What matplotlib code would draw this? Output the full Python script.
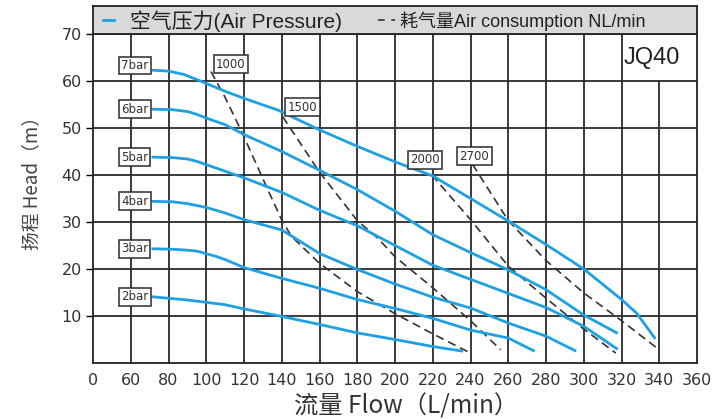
import matplotlib.pyplot as plt
from matplotlib.lines import Line2D

# 数据: 各气压下的流量-扬程曲线 (流量 L/min, 扬程 m)
flow_7bar = [71, 80, 88, 95, 110, 120, 138, 160, 180, 200, 220, 240, 260, 280, 300, 320, 328, 338]
head_7bar = [62.3, 62.1, 61.4, 60.3, 57.8, 56.3, 53.8, 49.6, 46.1, 42.8, 39.8, 35.0, 30.2, 25.2, 20.0, 13.5, 10.6, 5.1]
flow_6bar = [71, 82, 90, 95, 100, 110, 120, 140, 160, 180, 200, 220, 240, 260, 280, 300, 318]
head_6bar = [54.0, 53.9, 53.5, 52.9, 52.1, 50.7, 48.6, 45.0, 41.0, 36.9, 32.3, 27.3, 23.5, 19.8, 15.6, 10.2, 6.3]
flow_5bar = [71, 82, 90, 95, 100, 120, 140, 160, 180, 200, 220, 240, 260, 280, 300, 318]
head_5bar = [43.8, 43.7, 43.4, 42.9, 42.2, 39.4, 36.3, 32.5, 29.2, 25.0, 20.8, 17.8, 14.8, 11.8, 7.8, 2.9]
flow_4bar = [71, 82, 90, 100, 110, 120, 140, 160, 180, 200, 220, 240, 260, 280, 296]
head_4bar = [34.4, 34.3, 33.9, 33.1, 31.9, 30.5, 28.3, 23.3, 19.9, 16.8, 14.0, 11.7, 8.5, 5.7, 2.5]
flow_3bar = [71, 82, 90, 95, 105, 110, 120, 140, 160, 180, 200, 220, 240, 260, 274]
head_3bar = [24.3, 24.2, 24.0, 23.8, 22.7, 22.0, 20.3, 18.0, 15.9, 13.5, 11.6, 9.5, 7.0, 5.3, 2.5]
flow_2bar = [71, 90, 110, 120, 140, 160, 180, 200, 220, 236]
head_2bar = [14.1, 13.4, 12.4, 11.5, 9.9, 8.2, 6.4, 5.0, 3.5, 2.5]

pressure_labels = ['7bar', '6bar', '5bar', '4bar', '3bar', '2bar']
pressure_flows = [flow_7bar, flow_6bar, flow_5bar, flow_4bar, flow_3bar, flow_2bar]
pressure_heads = [head_7bar, head_6bar, head_5bar, head_4bar, head_3bar, head_2bar]
pressure_label_x = 62
pressure_label_y = [63.3, 54.0, 43.8, 34.4, 24.3, 14.1]

# 耗气量曲线 (NL/min)
flow_1000 = [102.5, 110, 119, 131, 140, 145, 160, 180, 200, 220, 240]
head_1000 = [62.0, 56.5, 49.0, 38.3, 30.4, 27.0, 21.2, 15.2, 10.5, 6.2, 2.1]
flow_1500 = [140.5, 160, 180, 191, 200, 220, 240, 256]
head_1500 = [52.4, 40.6, 30.3, 26.5, 22.6, 16.0, 9.0, 2.8]
flow_2000 = [219.5, 240, 260, 280, 300, 317]
head_2000 = [40.0, 30.5, 20.6, 13.8, 7.2, 2.1]
flow_2700 = [241, 260, 280, 300, 320, 340]
head_2700 = [42.3, 30.3, 21.8, 14.9, 9.0, 2.8]

air_labels = ['1000', '1500', '2000', '2700']
air_flows = [flow_1000, flow_1500, flow_2000, flow_2700]
air_heads = [head_1000, head_1500, head_2000, head_2700]
air_label_x = [113, 151, 216, 242]
air_label_y = [63.6, 54.4, 43.2, 44.0]

# 坐标轴刻度 (横轴第一格为 0 -> 60)
x_ticks = [40, 60, 80, 100, 120, 140, 160, 180, 200, 220, 240, 260, 280, 300, 320, 340, 360]
x_ticklabels = ['0', '60', '80', '100', '120', '140', '160', '180', '200', '220', '240',
                '260', '280', '300', '320', '340', '360']
y_ticks = [10, 20, 30, 40, 50, 60, 70]

blue = '#1ea0e2'
dark = '#2b2b2b'
cjk = ['Noto Sans CJK SC', 'DejaVu Sans']
legend_font = ['Liberation Sans', 'Noto Sans CJK SC']

fig = plt.figure(figsize=(7.14, 4.19), dpi=100)
ax = fig.add_axes([0.1303, 0.1337, 0.8459, 0.7852])
band = fig.add_axes([0.1303, 0.9189, 0.8459, 0.0668])

ax.set_xlim(40, 360)
ax.set_ylim(0, 70)

# 网格 (340 那条线在 JQ40 格内断开)
for xv in x_ticks[1:-1]:
    top = 60 if xv == 340 else 70
    ax.vlines(xv, 0, top, color=dark, lw=1.3, zorder=1)
for yv in y_ticks[:-1]:
    ax.axhline(yv, color=dark, lw=1.3, zorder=1)

for fl, hd in zip(pressure_flows, pressure_heads):
    ax.plot(fl, hd, color=blue, lw=2, zorder=3, solid_capstyle='butt', solid_joinstyle='round')
for fl, hd in zip(air_flows, air_heads):
    ax.plot(fl, hd, color='#333333', lw=1.2, dashes=(5, 3), zorder=2)

box = dict(boxstyle='square,pad=0.2', fc='white', ec=dark, lw=1.1)
for lab, yv in zip(pressure_labels, pressure_label_y):
    ax.text(pressure_label_x, yv, lab, fontsize=8.5, color='#333333',
            ha='center', va='center', bbox=box, zorder=4)
for lab, xv, yv in zip(air_labels, air_label_x, air_label_y):
    ax.text(xv, yv, lab, fontsize=8.5, color='#333333',
            ha='center', va='center', bbox=box, zorder=4)

ax.text(336, 64.8, 'JQ40', fontsize=17, family='Liberation Sans', color='#222222',
        ha='center', va='center')

ax.set_xticks(x_ticks)
ax.set_xticklabels(x_ticklabels)
ax.set_yticks(y_ticks)
ax.tick_params(axis='x', length=0, pad=7, labelsize=11.5, labelcolor='#333333')
ax.tick_params(axis='y', length=5, width=1, pad=3, labelsize=11.5, labelcolor='#333333')
for s in ax.spines.values():
    s.set_linewidth(1.3)
    s.set_color('#222222')

ax.set_xlabel('流量 Flow（L/min）', family=cjk, fontsize=17.5, color='#333333')
ax.xaxis.set_label_coords(0.518, -0.094)
ax.set_ylabel('扬程 Head（m）', family=cjk, fontsize=13.5, color='#444444')
ax.yaxis.set_label_coords(-0.0845, 0.562)

# 顶部图例条
band.set_facecolor('#d9d9d9')
band.set_xlim(0, 1)
band.set_ylim(0, 1)
band.set_xticks([])
band.set_yticks([])
for s in band.spines.values():
    s.set_linewidth(1.3)
    s.set_color('#222222')
band.add_line(Line2D([0.017, 0.035], [0.5, 0.5], color=blue, lw=2))
band.text(0.061, 0.47, '空气压力(Air Pressure)', family=legend_font, fontsize=15,
          color='#222222', va='center', ha='left')
band.add_line(Line2D([0.472, 0.500], [0.5, 0.5], color='#333333', lw=1.2, dashes=(4, 4)))
band.text(0.508, 0.47, '耗气量Air consumption NL/min', family=legend_font, fontsize=13,
          color='#222222', va='center', ha='left')

fig.savefig('out.png', dpi=100)
